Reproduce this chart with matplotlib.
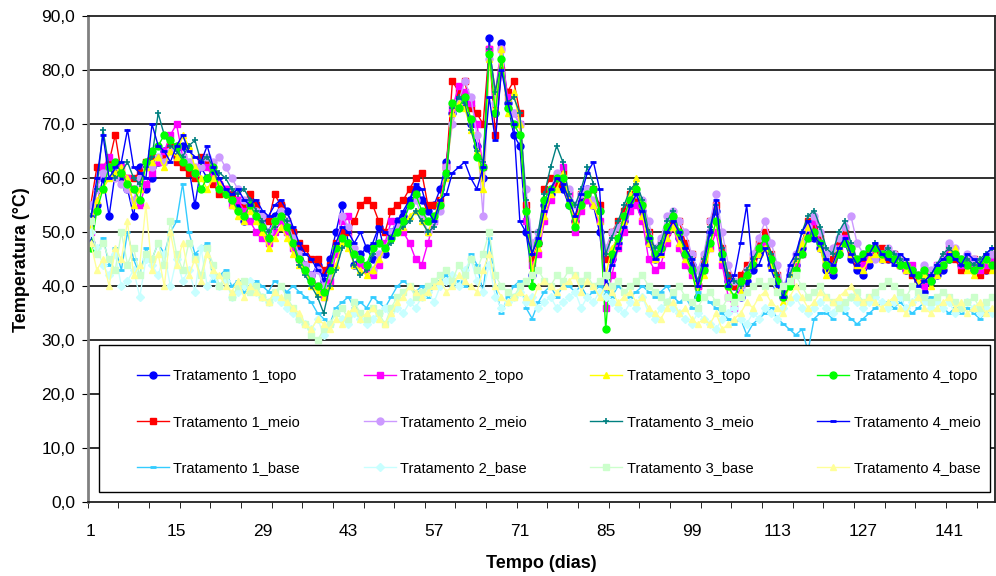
import matplotlib

matplotlib.use("Agg")
import matplotlib.pyplot as plt  # noqa: E402
import numpy as np  # noqa: E402
from matplotlib.patches import Rectangle  # noqa: E402
from matplotlib.ticker import FuncFormatter  # noqa: E402

plt.rcParams["font.family"] = ["Liberation Sans", "DejaVu Sans"]

days = np.arange(1, 149)
xticks = [1, 15, 29, 43, 57, 71, 85, 99, 113, 127, 141]

# daily temperatures (°C), one list per treatment/position
t1_topo = [
    48, 55, 60, 53, 61, 60, 58, 53, 62, 58, 60, 63, 65, 66, 64, 66, 62, 55, 62, 60,
    61, 59, 57, 56, 55, 52, 56, 54, 52, 50, 53, 55, 54, 50, 47, 44, 42, 44, 41, 45,
    50, 55, 48, 44, 46, 47, 45, 51, 46, 50, 52, 53, 56, 58, 56, 54, 55, 58, 63, 72,
    75, 74, 70, 66, 60, 86, 72, 85, 74, 68, 66, 50, 42, 48, 55, 57, 60, 58, 55, 52,
    56, 58, 55, 50, 40, 45, 48, 52, 55, 57, 54, 48, 45, 47, 50, 52, 49, 46, 44, 38,
    44, 50, 54, 46, 41, 40, 38, 41, 43, 46, 48, 44, 40, 38, 42, 44, 47, 50, 49, 47,
    43, 42, 46, 48, 45, 43, 42, 44, 46, 45, 45, 46, 44, 43, 43, 41, 39, 41, 42, 43,
    45, 46, 44, 44, 43, 44, 43, 44]
t1_meio = [
    55, 62, 62, 63, 68, 61, 60, 60, 61, 63, 64, 63, 64, 66, 63, 62, 61, 60, 64, 63,
    59, 57, 58, 57, 56, 55, 57, 55, 53, 52, 57, 55, 52, 50, 48, 47, 45, 45, 43, 44,
    48, 50, 50, 52, 55, 56, 55, 52, 50, 54, 55, 56, 58, 60, 61, 55, 55, 56, 62, 78,
    76, 78, 73, 72, 70, 84, 68, 80, 76, 78, 72, 55, 45, 48, 58, 60, 59, 61, 57, 52,
    57, 56, 58, 55, 45, 50, 52, 54, 57, 56, 55, 50, 46, 48, 50, 52, 52, 48, 46, 40,
    45, 52, 55, 47, 42, 40, 42, 44, 45, 48, 50, 46, 42, 39, 41, 45, 48, 52, 51, 49,
    44, 45, 48, 50, 46, 44, 45, 46, 46, 47, 45, 46, 44, 44, 42, 41, 43, 42, 43, 44,
    46, 45, 43, 44, 45, 42, 43, 44]
t1_base = [
    48, 46, 49, 44, 47, 43, 50, 45, 42, 47, 45, 48, 46, 50, 52, 59, 50, 46, 47, 48,
    41, 42, 43, 40, 41, 39, 40, 41, 40, 39, 41, 40, 39, 40, 39, 38, 37, 35, 34, 33,
    36, 37, 38, 36, 37, 36, 38, 37, 36, 38, 40, 41, 40, 39, 40, 38, 40, 41, 42, 40,
    41, 40, 46, 44, 39, 49, 40, 35, 38, 40, 41, 36, 34, 37, 39, 40, 38, 40, 40, 39,
    40, 38, 39, 40, 39, 38, 40, 39, 38, 39, 40, 39, 38, 39, 40, 38, 37, 38, 36, 39,
    38, 37, 36, 35, 34, 33, 34, 31, 33, 34, 35, 36, 34, 33, 32, 31, 32, 28, 34, 35,
    35, 34, 36, 35, 34, 33, 34, 35, 36, 37, 37, 36, 37, 36, 35, 36, 37, 38, 37, 36,
    35, 36, 35, 36, 35, 34, 35, 35]
t2_topo = [
    50, 58, 62, 64, 63, 62, 60, 58, 55, 59, 61, 63, 65, 68, 70, 64, 63, 61, 63, 62,
    60, 59, 58, 55, 56, 54, 52, 50, 49, 48, 50, 52, 50, 47, 45, 43, 42, 40, 38, 41,
    46, 52, 53, 46, 44, 43, 42, 44, 48, 52, 51, 50, 48, 45, 44, 48, 52, 55, 62, 73,
    77, 76, 74, 70, 62, 84, 76, 84, 75, 72, 70, 52, 44, 46, 52, 56, 60, 62, 57, 50,
    54, 56, 55, 52, 36, 42, 47, 50, 54, 55, 52, 45, 43, 44, 48, 51, 47, 44, 42, 40,
    43, 47, 50, 44, 38, 36, 40, 42, 44, 47, 48, 45, 41, 38, 41, 44, 46, 49, 52, 48,
    44, 43, 47, 49, 47, 45, 44, 45, 47, 46, 46, 45, 44, 43, 44, 42, 40, 42, 44, 45,
    47, 46, 44, 45, 44, 43, 44, 45]
t2_meio = [
    55, 58, 61, 62, 60, 59, 58, 56, 60, 62, 62, 64, 63, 65, 66, 64, 63, 62, 62, 64,
    63, 64, 62, 60, 58, 56, 55, 54, 53, 50, 52, 54, 52, 49, 46, 44, 42, 43, 40, 42,
    47, 53, 51, 47, 45, 44, 43, 46, 47, 50, 51, 52, 55, 56, 53, 50, 52, 54, 62, 70,
    74, 78, 75, 68, 53, 82, 74, 84, 73, 72, 70, 58, 48, 50, 56, 58, 61, 60, 58, 55,
    57, 58, 56, 54, 47, 50, 51, 53, 56, 57, 56, 52, 47, 49, 53, 54, 52, 50, 46, 43,
    46, 52, 57, 50, 44, 41, 40, 43, 46, 49, 52, 48, 44, 40, 43, 46, 48, 51, 53, 50,
    46, 47, 49, 51, 53, 48, 46, 47, 45, 46, 47, 46, 45, 44, 43, 42, 44, 43, 44, 45,
    48, 47, 45, 46, 45, 44, 45, 46]
t2_base = [
    50, 47, 44, 42, 46, 40, 41, 43, 38, 45, 44, 42, 46, 40, 45, 41, 43, 39, 47, 40,
    42, 40, 41, 38, 39, 40, 41, 39, 38, 37, 38, 37, 36, 35, 34, 33, 32, 34, 31, 33,
    35, 34, 33, 35, 34, 33, 34, 35, 36, 34, 36, 35, 37, 36, 38, 39, 37, 40, 41, 42,
    40, 43, 45, 41, 39, 44, 38, 36, 37, 38, 39, 37, 38, 36, 37, 38, 36, 37, 38, 39,
    36, 38, 37, 39, 38, 37, 36, 35, 37, 36, 38, 35, 34, 36, 37, 36, 35, 34, 33, 35,
    34, 33, 32, 34, 35, 36, 34, 33, 35, 34, 36, 35, 34, 36, 37, 38, 36, 35, 36, 37,
    36, 35, 37, 36, 38, 37, 36, 37, 38, 37, 36, 37, 38, 36, 37, 38, 37, 36, 37, 36,
    37, 35, 36, 37, 36, 35, 36, 35]
t3_topo = [
    51, 56, 58, 60, 61, 62, 60, 55, 58, 62, 63, 64, 62, 65, 64, 68, 66, 62, 60, 58,
    60, 59, 57, 55, 53, 52, 54, 52, 50, 47, 49, 51, 49, 46, 44, 43, 40, 39, 38, 40,
    44, 48, 47, 44, 43, 42, 43, 45, 47, 49, 50, 51, 53, 54, 52, 50, 53, 56, 60, 72,
    74, 73, 69, 65, 58, 82, 73, 84, 72, 76, 70, 54, 43, 47, 53, 57, 58, 61, 56, 52,
    55, 57, 55, 52, 42, 47, 49, 52, 57, 60, 53, 48, 45, 46, 49, 51, 48, 45, 43, 39,
    42, 47, 52, 45, 40, 37, 39, 42, 45, 46, 47, 44, 40, 37, 40, 45, 48, 51, 50, 47,
    42, 44, 47, 48, 46, 44, 43, 45, 46, 45, 46, 45, 44, 43, 43, 41, 42, 40, 42, 44,
    46, 47, 45, 43, 42, 44, 45, 43]
t3_meio = [
    53, 58, 69, 62, 60, 61, 63, 60, 59, 62, 64, 72, 68, 66, 65, 64, 66, 67, 63, 64,
    62, 61, 60, 58, 57, 58, 56, 54, 52, 50, 51, 53, 52, 48, 44, 42, 40, 38, 35, 40,
    43, 47, 48, 44, 42, 43, 46, 48, 47, 48, 50, 51, 52, 54, 52, 50, 51, 55, 60, 73,
    75, 74, 69, 65, 63, 84, 76, 82, 74, 75, 72, 56, 46, 50, 57, 62, 66, 63, 57, 55,
    58, 62, 59, 54, 46, 49, 52, 55, 58, 59, 56, 50, 47, 48, 52, 54, 50, 47, 45, 41,
    45, 51, 55, 47, 42, 41, 40, 43, 45, 47, 49, 46, 42, 39, 42, 45, 50, 53, 54, 51,
    47, 46, 50, 52, 48, 45, 46, 47, 48, 46, 47, 46, 45, 44, 43, 42, 41, 42, 44, 46,
    47, 46, 44, 45, 44, 45, 46, 47]
t3_base = [
    52, 46, 48, 45, 43, 50, 44, 47, 42, 46, 45, 48, 44, 52, 46, 43, 48, 45, 42, 47,
    44, 40, 42, 38, 40, 41, 39, 40, 38, 37, 39, 40, 38, 36, 34, 33, 31, 30, 32, 33,
    35, 36, 34, 37, 35, 34, 36, 35, 33, 36, 38, 39, 40, 38, 39, 40, 41, 42, 43, 41,
    44, 42, 45, 43, 46, 50, 42, 40, 39, 38, 40, 41, 42, 43, 41, 40, 42, 41, 43, 42,
    41, 42, 40, 41, 42, 40, 41, 39, 40, 41, 42, 40, 39, 38, 37, 39, 40, 38, 37, 36,
    38, 39, 37, 36, 38, 37, 38, 39, 40, 41, 40, 41, 39, 40, 41, 42, 40, 38, 39, 40,
    38, 37, 36, 37, 38, 39, 37, 38, 39, 40, 41, 40, 39, 38, 40, 39, 38, 37, 38, 39,
    38, 37, 36, 37, 38, 36, 37, 38]
t4_topo = [
    47, 54, 58, 62, 63, 61, 59, 58, 56, 63, 65, 66, 68, 67, 66, 63, 62, 61, 58, 60,
    62, 58, 57, 56, 54, 53, 55, 53, 51, 49, 52, 53, 51, 48, 45, 43, 41, 40, 39, 43,
    47, 49, 48, 46, 45, 44, 47, 48, 47, 49, 50, 52, 55, 57, 54, 52, 53, 55, 61, 74,
    73, 75, 71, 64, 62, 83, 72, 82, 73, 70, 68, 54, 40, 48, 56, 58, 60, 60, 55, 51,
    55, 57, 58, 54, 32, 46, 49, 53, 56, 58, 55, 49, 46, 47, 51, 53, 50, 46, 43, 38,
    43, 48, 52, 46, 40, 38, 41, 42, 44, 47, 49, 45, 41, 38, 40, 43, 46, 49, 50, 48,
    44, 43, 46, 48, 47, 45, 46, 47, 47, 46, 46, 45, 44, 44, 43, 42, 43, 41, 43, 44,
    45, 46, 45, 44, 43, 44, 45, 44]
t4_meio = [
    52, 60, 68, 60, 62, 63, 69, 62, 61, 60, 70, 66, 65, 63, 66, 68, 65, 64, 63, 66,
    62, 60, 58, 57, 58, 56, 55, 56, 54, 53, 55, 56, 54, 51, 48, 46, 45, 43, 42, 44,
    48, 51, 50, 48, 50, 47, 48, 51, 50, 49, 52, 54, 56, 59, 58, 54, 52, 56, 57, 61,
    62, 63, 60, 58, 62, 75, 67, 80, 74, 70, 52, 50, 46, 49, 54, 58, 60, 59, 56, 53,
    57, 61, 63, 58, 40, 44, 47, 51, 55, 57, 54, 49, 45, 46, 50, 52, 50, 47, 45, 40,
    44, 50, 56, 45, 40, 42, 48, 55, 43, 44, 47, 43, 40, 38, 44, 46, 50, 52, 49, 48,
    45, 44, 47, 49, 46, 44, 45, 46, 48, 46, 45, 44, 46, 45, 42, 40, 41, 42, 44, 45,
    46, 45, 44, 46, 45, 44, 46, 47]
t4_base = [
    48, 43, 45, 40, 47, 45, 52, 42, 44, 55, 43, 46, 40, 50, 44, 48, 42, 45, 41, 46,
    43, 42, 40, 39, 41, 38, 40, 39, 38, 37, 39, 38, 37, 36, 35, 33, 32, 34, 33, 32,
    34, 33, 35, 36, 34, 35, 36, 34, 33, 35, 37, 38, 40, 39, 38, 39, 40, 41, 39, 40,
    42, 41, 40, 39, 43, 46, 40, 38, 37, 38, 39, 38, 37, 40, 41, 40, 39, 40, 41, 42,
    39, 41, 40, 38, 40, 39, 37, 38, 39, 37, 38, 36, 35, 34, 36, 37, 35, 36, 34, 33,
    34, 33, 35, 32, 33, 34, 35, 37, 36, 38, 39, 37, 36, 35, 38, 40, 38, 36, 37, 39,
    38, 37, 38, 39, 40, 38, 37, 38, 37, 36, 37, 38, 36, 35, 37, 38, 36, 35, 36, 37,
    38, 36, 37, 35, 36, 37, 35, 36]

# series in legend column order: treatment 1..4, each topo / meio / base
SERIES = [
    ("Tratamento 1_topo", t1_topo, dict(color="#0000ff", marker="o")),
    ("Tratamento 1_meio", t1_meio, dict(color="#ff0000", marker="s")),
    ("Tratamento 1_base", t1_base, dict(color="#33ccff", marker="_", mew=2)),
    ("Tratamento 2_topo", t2_topo, dict(color="#ff00ff", marker="s")),
    ("Tratamento 2_meio", t2_meio, dict(color="#cc99ff", marker="o")),
    ("Tratamento 2_base", t2_base, dict(color="#c8ffff", marker="D", ms=4)),
    ("Tratamento 3_topo", t3_topo, dict(color="#ffff00", marker="^")),
    ("Tratamento 3_meio", t3_meio, dict(color="#008080", marker="+", mew=1.2)),
    ("Tratamento 3_base", t3_base, dict(color="#ccffcc", marker="s")),
    ("Tratamento 4_topo", t4_topo, dict(color="#00ff00", marker="o")),
    ("Tratamento 4_meio", t4_meio, dict(color="#0000ff", marker="_", mew=2)),
    ("Tratamento 4_base", t4_base, dict(color="#ffff99", marker="^")),
]

fig = plt.figure(figsize=(9.96, 5.76), dpi=100)
ax = fig.add_axes([0.088, 0.128, 0.911, 0.844])

# tops and middles first, bases on top
order = [0, 1, 3, 4, 6, 7, 9, 10, 2, 5, 8, 11]
handles = [None] * len(SERIES)
for i in order:
    label, vals, st = SERIES[i]
    kw = dict(lw=1.0, ms=5)
    kw.update(st)
    (h,) = ax.plot(days, vals, label=label, **kw)
    handles[i] = h

ax.set_xlim(0.5, 148.5)
ax.set_ylim(0, 90)
ax.set_yticks(np.arange(0, 91, 10))
ax.set_xticks(xticks)
ax.set_xticks(np.arange(0.5, 149, 5), minor=True)
ax.yaxis.set_major_formatter(FuncFormatter(lambda v, p: f"{v:.1f}".replace(".", ",")))
ax.tick_params(axis="y", labelsize=12.5, length=4, pad=5)
ax.tick_params(axis="x", which="major", labelsize=12.5, length=0, pad=16)
ax.tick_params(axis="x", which="minor", length=4)
for y in range(10, 90, 10):
    ax.axhline(y, color="#202020", lw=1.3, zorder=0)
for s in ("top", "right", "bottom"):
    ax.spines[s].set_color("#202020")
    ax.spines[s].set_linewidth(1.3)
ax.spines["left"].set_color("#808080")
ax.spines["left"].set_linewidth(2)

ax.set_ylabel("Temperatura (°C)", fontsize=13, fontweight="bold", labelpad=8)
ax.set_xlabel("Tempo (dias)", fontsize=13, fontweight="bold", labelpad=11)

# legend box drawn as a plain rectangle, entries placed inside it
box = Rectangle((0.013, 0.021), 0.981, 0.302, transform=ax.transAxes,
                facecolor="white", edgecolor="black", lw=1.0, zorder=9)
ax.add_patch(box)
leg = ax.legend(handles=handles, ncol=4, loc="lower left",
                bbox_to_anchor=(0.054, 0.056, 0.93, 0.25), mode="expand",
                borderaxespad=0, borderpad=0, fontsize=10.5, labelspacing=2.2,
                handlelength=2.2, handletextpad=0.3, frameon=False)
leg.set_zorder(10)

fig.savefig("out.png", dpi=100)
